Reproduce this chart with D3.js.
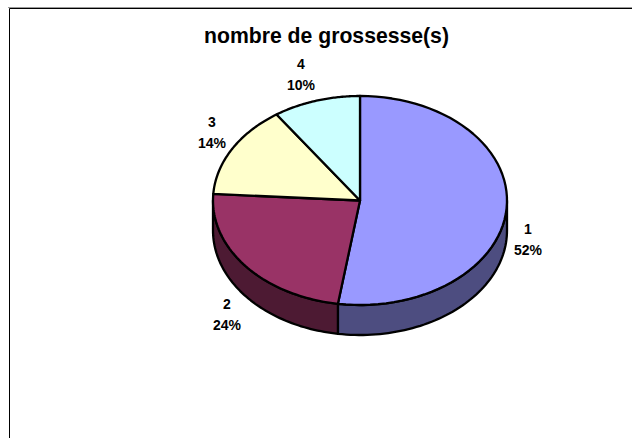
<!DOCTYPE html>
<html>
<head>
<meta charset="utf-8">
<script src="https://cdn.jsdelivr.net/npm/d3@7"></script>
<style>
html, body { margin: 0; padding: 0; background: #fff; }
svg { display: block; }
text { font-family: "Liberation Sans", Arial, sans-serif; font-weight: bold; fill: #000; }
</style>
</head>
<body>
<script>
// nombre de grossesse(s)
var title = "nombre de grossesse(s)";
var categories = ["1", "2", "3", "4"];
var values = [52.4, 23.6, 14.4, 9.6];
var topColors = ["#9999ff", "#993366", "#ffffcc", "#ccffff"];
var sideColors = ["#4d4d80", "#4d1a33", "#808066", "#668080"];

var width = 632, height = 438;
var cx = 360, cy = 200.5, rx = 147, ry = 104.5, depth = 30;

// label centres, placed by hand next to each slice
var labelPos = [[528, 229], [227, 304], [212, 122], [301, 64]];

var svg = d3.select("body").append("svg")
    .attr("width", width)
    .attr("height", height);

// frame: only top and left edges show in the picture
svg.append("path")
    .attr("d", "M9.5,438V8.5H632")
    .attr("fill", "none")
    .attr("stroke", "#000")
    .attr("stroke-width", 1);
svg.append("line")
    .attr("x1", 8).attr("x2", 632).attr("y1", 7.5).attr("y2", 7.5)
    .attr("stroke", "#999");

svg.append("text")
    .attr("x", 326.5)
    .attr("y", 43)
    .attr("text-anchor", "middle")
    .style("font-size", "21.2px")
    .text(title);

var pie = d3.pie().sort(null);
var arcs = pie(values);
var total = d3.sum(values);

function px(a) { return cx + rx * Math.sin(a); }
function py(a, dz) { return cy - ry * Math.cos(a) + (dz || 0); }

// points along the rim between two angles
function rim(a0, a1, dz) {
    return d3.range(0, 61).map(function(i) {
        var a = a0 + (a1 - a0) * i / 60;
        return [px(a), py(a, dz)];
    });
}

var line = d3.line();

// side wall, only the front half (pi/2 .. 3pi/2) can be seen
arcs.forEach(function(d, i) {
    var a0 = Math.max(d.startAngle, Math.PI / 2);
    var a1 = Math.min(d.endAngle, Math.PI * 3 / 2);
    if (a1 <= a0) return;
    var pts = rim(a0, a1, 0).concat(rim(a1, a0, depth));
    svg.append("path")
        .attr("d", line(pts) + "Z")
        .attr("fill", sideColors[i])
        .attr("stroke", "#000")
        .attr("stroke-width", 2.3)
        .attr("stroke-linejoin", "round");
});

// top face
arcs.forEach(function(d, i) {
    var pts = [[cx, cy]].concat(rim(d.startAngle, d.endAngle, 0));
    svg.append("path")
        .attr("d", line(pts) + "Z")
        .attr("fill", topColors[i])
        .attr("stroke", "#000")
        .attr("stroke-width", 2.3)
        .attr("stroke-linejoin", "round");
});

// labels
categories.forEach(function(c, i) {
    var t = svg.append("text")
        .attr("text-anchor", "middle")
        .style("font-size", "14px");
    t.append("tspan")
        .attr("x", labelPos[i][0])
        .attr("y", labelPos[i][1] + 5)
        .text(c);
    t.append("tspan")
        .attr("x", labelPos[i][0])
        .attr("y", labelPos[i][1] + 25.5)
        .text(d3.format(".0f")(values[i] / total * 100) + "%");
});
</script>
</body>
</html>
